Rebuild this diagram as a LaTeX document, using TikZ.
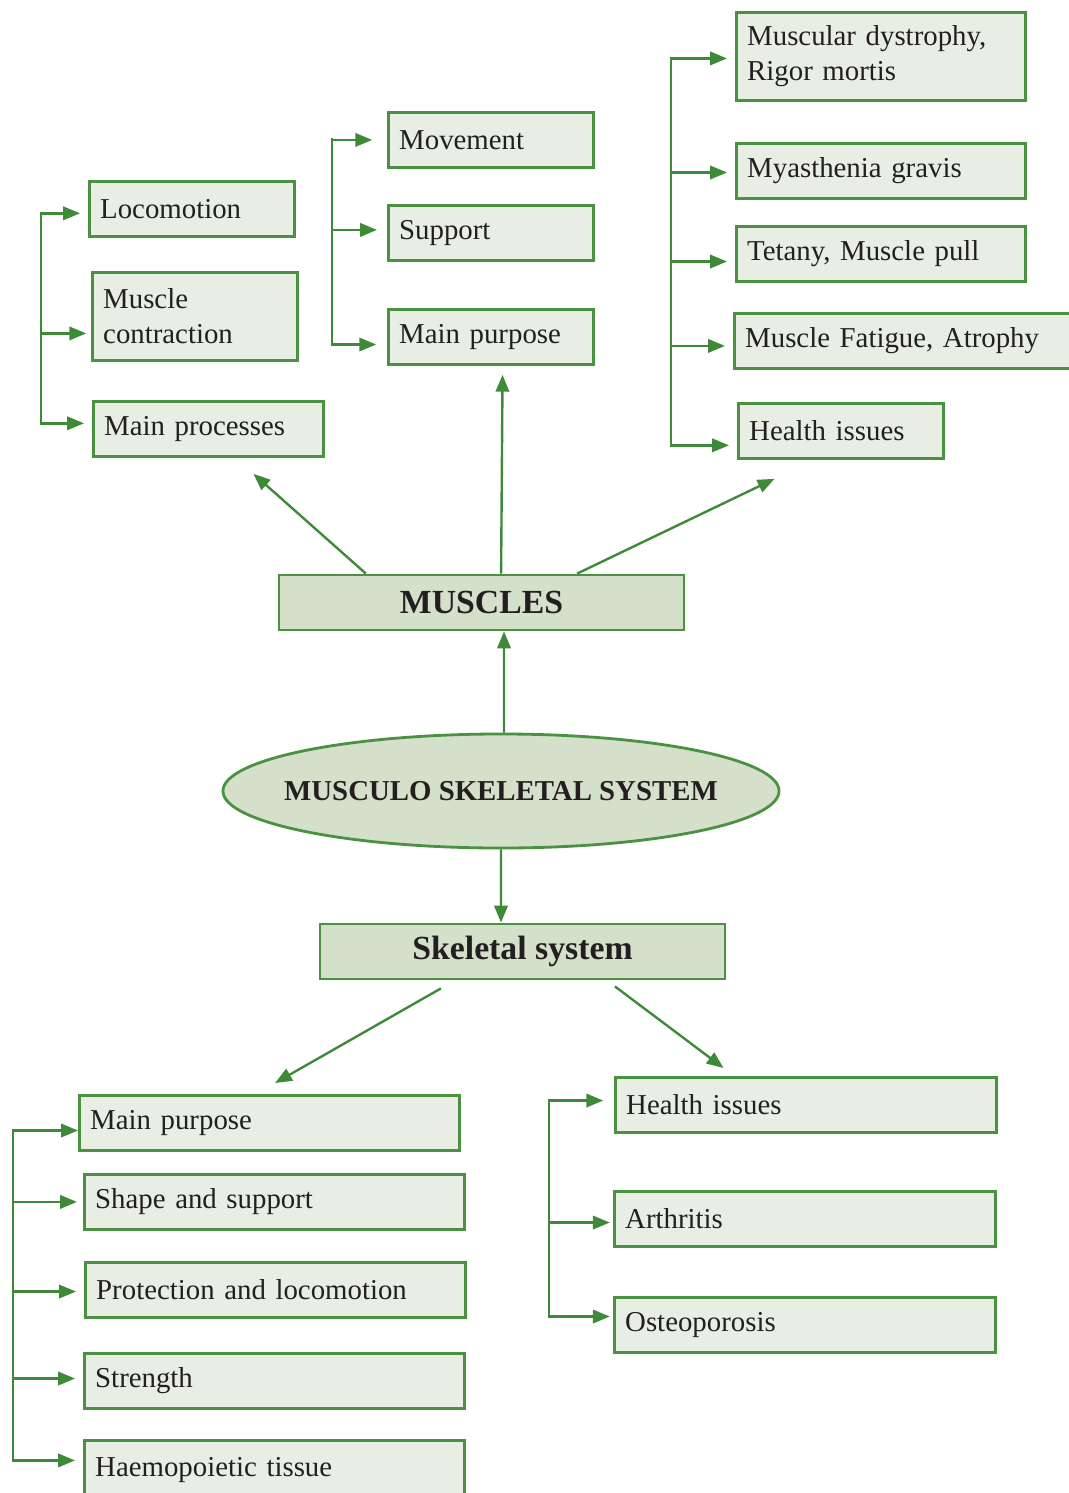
\documentclass[tikz,border=0pt]{standalone}
\usepackage{fontspec}
\setmainfont{Liberation Serif}
\usepackage{xcolor}
\usepackage{tikz}
\usetikzlibrary{arrows.meta,positioning,calc,shapes.geometric}
\definecolor{boxgreen}{HTML}{4A9142}
\definecolor{arrgreen}{HTML}{3E8A38}
\definecolor{leaffill}{HTML}{E8EEE3}
\definecolor{headfill}{HTML}{D5E0CA}
\definecolor{inkgray}{HTML}{231F20}
\newcommand{\leaffont}{\fontsize{20.5}{25}\selectfont}
\newcommand{\headfont}{\fontsize{24}{28}\selectfont\bfseries}
\newcommand{\hubfont}{\fontsize{20.5}{24}\selectfont\bfseries}

\begin{document}
\begin{tikzpicture}[
    x=0.025cm, y=-0.025cm,
    >={Triangle[length=12pt,width=9.5pt]},
    leaf/.style={draw=boxgreen, line width=2pt, fill=leaffill, text=inkgray, anchor=north west, align=left, inner xsep=0.27cm, minimum height=1.375cm, font=\leaffont},
    head/.style={draw=boxgreen, line width=2pt, fill=headfill, text=inkgray, minimum width=10.125cm, minimum height=1.375cm, font=\headfont},
    hub/.style={ellipse, draw=boxgreen, line width=2pt, fill=headfill, minimum width=13.9cm, minimum height=2.85cm, inner sep=0pt},
    arr/.style={->, draw=arrgreen, line width=1.7pt, shorten >=0.2cm},
    link/.style={->, draw=arrgreen, line width=1.7pt}
]
\path[use as bounding box] (0,0) rectangle (1069,1493);
\clip (0,0) rectangle (1069,1493);
% muscles: what they do
\node[leaf, text width=4.585cm] (loco) at (88,180) {Locomotion};
\node[leaf, text width=4.585cm, minimum height=2.2cm] (mcon) at (91,271) {Muscle\\contraction};
\node[leaf, text width=5.21cm] (mproc) at (92,400) {Main processes};
\node[leaf, text width=4.585cm] (move) at (387,111) {Movement};
\node[leaf, text width=4.585cm] (supp) at (387,204) {Support};
\node[leaf, text width=4.585cm] (mpurp) at (387,308) {Main purpose};
% muscles: disorders
\node[leaf, text width=6.685cm, minimum height=2.2cm] (dyst) at (735,11) {Muscular dystrophy,\\Rigor mortis};
\node[leaf, text width=6.685cm] (myas) at (735,142) {Myasthenia gravis};
\node[leaf, text width=6.685cm] (teta) at (735,225) {Tetany, Muscle pull};
\node[leaf, text width=8.46cm] (fatg) at (733,312) {Muscle Fatigue, Atrophy};
\node[leaf, text width=4.585cm] (mhealth) at (737,402) {Health issues};
% centre
\node[head] (muscles) at (481.5,602.5) {MUSCLES};
\node[hub, label={[font=\hubfont, text=inkgray]center:MUSCULO SKELETAL SYSTEM}] (mss) at (501,791) {};
\node[head] (skel) at (522.5,951.5) {Skeletal system};
% skeleton
\node[leaf, text width=8.96cm] (bpurp) at (78,1094) {Main purpose};
\node[leaf, text width=8.96cm] (bshape) at (83,1173) {Shape and support};
\node[leaf, text width=8.96cm] (bprot) at (84,1261) {Protection and locomotion};
\node[leaf, text width=8.96cm] (bstr) at (83,1352) {Strength};
\node[leaf, text width=8.96cm, minimum height=1.5cm] (bhaem) at (83,1439) {Haemopoietic tissue};
\node[leaf, text width=8.985cm] (bhealth) at (614,1076) {Health issues};
\node[leaf, text width=8.985cm] (arth) at (613,1190) {Arthritis};
\node[leaf, text width=8.985cm] (osteo) at (613,1296) {Osteoporosis};
% main links
\draw[link] ([xshift=-2.89cm]muscles.north) -- ([xshift=1.125cm,yshift=-0.4cm]mproc.south);
\draw[link] ([xshift=0.49cm]muscles.north) -- ([xshift=0.29cm,yshift=-0.225cm]mpurp.south);
\draw[link] ([xshift=2.39cm]muscles.north) -- ([xshift=-1.66cm,yshift=-0.475cm]mhealth.south);
\draw[link] ([xshift=0.075cm]mss.north) -- ([xshift=0.5625cm]muscles.south);
\draw[link] (mss.south) -- ([xshift=-0.5375cm]skel.north);
\draw[link] ([xshift=-2.04cm,yshift=-0.2cm]skel.south) -- ([xshift=0.14cm,yshift=0.275cm]bpurp.north);
\draw[link] ([xshift=2.31cm,yshift=-0.15cm]skel.south) -- ([xshift=-2.06cm,yshift=0.2cm]bhealth.north);
% brackets
\coordinate (ltop) at (41,212);
\draw[arr] (ltop) |- ([yshift=-0.11cm]loco.west);
\draw[arr, shorten >=0.12cm] (ltop) |- ([yshift=-0.425cm]mcon.west);
\draw[arr] (ltop) |- ([yshift=0.14cm]mproc.west);
\coordinate (mtop) at (332,138);
\draw[arr, shorten >=0.37cm] (mtop) |- (move.west);
\draw[arr, shorten >=0.25cm] (mtop) |- ([yshift=0.075cm]supp.west);
\draw[arr, shorten >=0.27cm] (mtop) |- ([yshift=-0.19cm]mpurp.west);
\coordinate (rtop) at (671,57);
\draw[arr] (rtop) |- ([yshift=-0.05cm]dyst.west);
\draw[arr] (rtop) |- ([yshift=-0.04cm]myas.west);
\draw[arr] (rtop) |- ([yshift=-0.19cm]teta.west);
\draw[arr] (rtop) |- ([yshift=-0.125cm]fatg.west);
\draw[arr] (rtop) |- ([yshift=-0.36cm]mhealth.west);
\coordinate (bltop) at (13,1129);
\draw[arr, shorten >=0pt] (bltop) |- ([yshift=-0.19cm]bpurp.west);
\draw[arr, shorten >=0.15cm] (bltop) |- (bshape.west);
\draw[arr] (bltop) |- ([yshift=-0.04cm]bprot.west);
\draw[arr] (bltop) |- ([yshift=0.06cm]bstr.west);
\draw[arr] (bltop) |- ([yshift=0.25cm]bhaem.west);
\coordinate (brtop) at (549,1099);
\draw[arr, shorten >=0.27cm] (brtop) |- ([yshift=0.11cm]bhealth.west);
\draw[arr, shorten >=0.08cm] (brtop) |- ([yshift=-0.09cm]arth.west);
\draw[arr, shorten >=0.08cm] (brtop) |- ([yshift=0.21cm]osteo.west);
\end{tikzpicture}
\end{document}
